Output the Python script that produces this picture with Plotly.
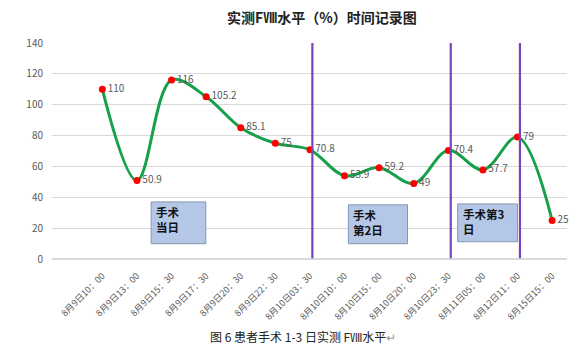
import plotly.graph_objects as go

# ---- data ----
categories = ["8月9日10：00", "8月9日13：00", "8月9日15：30", "8月9日17：30",
              "8月9日20：30", "8月9日22：30", "8月10日03：30", "8月10日10：00",
              "8月10日15：00", "8月10日20：00", "8月10日23：30", "8月11日05：00",
              "8月12日11：00", "8月15日15：00"]
fviii_values = [110, 50.9, 116, 105.2, 85.1, 75, 70.8, 53.9, 59.2, 49, 70.4, 57.7, 79, 25]
value_labels = ["110", "50.9", "116", "105.2", "85.1", "75", "70.8", "53.9",
                "59.2", "49", "70.4", "57.7", "79", "25"]
divider_categories = ["8月10日03：30", "8月10日23：30", "8月12日11：00"]
box_texts = ["手术<br>当日", "手术<br>第2日", "手术第3<br>日"]
y_ticks = [0, 20, 40, 60, 80, 100, 120, 140]

title_text = "实测FⅧ水平（%）时间记录图"
caption_text = "图 6 患者手术 1-3 日实测 FⅧ水平<span style='color:#999'>↵</span>"

FONT = "Noto Sans CJK SC, Arial, sans-serif"
xs = list(range(len(categories)))

W, H = 579, 361
ML, MR, MT, MB = 52, 12, 43, 102
PW, PH = W - ML - MR, H - MT - MB


def px_to_paper(px, py):
    return (px - ML) / PW, (H - MB - py) / PH


fig = go.Figure()
fig.add_trace(go.Scatter(
    x=xs, y=fviii_values,
    mode="lines+markers+text",
    line=dict(color="#16A04A", width=3, shape="spline", smoothing=1.0),
    marker=dict(color="#FF0000", size=7),
    text=value_labels, textposition="middle right",
    textfont=dict(size=10, color="#595959", family=FONT),
    hoverinfo="skip", showlegend=False, cliponaxis=False,
))

shapes = []
for c in divider_categories:
    xi = categories.index(c) + 0.07
    shapes.append(dict(type="line", xref="x", yref="y", x0=xi, x1=xi, y0=0.5, y1=140,
                       line=dict(color="#7844B8", width=2.2), layer="above"))

box_geom = [(1.41, 2.99, 9.9, 37.0), (7.11, 8.82, 9.9, 35.1), (10.27, 12.0, 11.2, 35.7)]
annotations = []
for (x0, x1, y0, y1), t in zip(box_geom, box_texts):
    shapes.append(dict(type="rect", xref="x", yref="y", x0=x0, x1=x1, y0=y0, y1=y1,
                       fillcolor="#B4C7E7", line=dict(color="#8497B0", width=1), layer="above"))
    annotations.append(dict(x=x0, y=y1, xref="x", yref="y", text="<b>" + t + "</b>",
                            showarrow=False, xanchor="left", yanchor="top", align="left",
                            xshift=3, yshift=0,
                            font=dict(size=11.5, color="#111111", family=FONT)))

tx, ty = px_to_paper(322, 17)
annotations.append(dict(x=tx, y=ty, xref="paper", yref="paper",
                        text="<b>" + title_text + "</b>", showarrow=False,
                        xanchor="center", yanchor="middle",
                        font=dict(size=14, color="#222222", family=FONT)))
cx, cy = px_to_paper(303, 336)
annotations.append(dict(x=cx, y=cy, xref="paper", yref="paper",
                        text=caption_text, showarrow=False,
                        xanchor="center", yanchor="middle",
                        font=dict(size=12, color="#222222", family=FONT)))

fig.update_layout(
    width=W, height=H,
    margin=dict(l=ML, r=MR, t=MT, b=MB),
    paper_bgcolor="white", plot_bgcolor="white",
    shapes=shapes, annotations=annotations,
    xaxis=dict(range=[-1.456, 13.43], tickvals=xs, ticktext=categories,
               tickangle=-45, showgrid=False, zeroline=False, showline=False,
               automargin=False, ticklabelstandoff=9,
               tickfont=dict(size=9, color="#595959", family=FONT), fixedrange=True),
    yaxis=dict(range=[0, 140], tickvals=y_ticks, showgrid=True, gridcolor="#D9D9D9",
               gridwidth=1, zeroline=True, zerolinecolor="#D9D9D9", showline=False,
               automargin=False,
               tickfont=dict(size=10, color="#595959", family=FONT),
               ticklabelstandoff=8, fixedrange=True),
)

fig.write_html("out.html", config={"displayModeBar": False},
               post_script="document.body.style.margin='0';document.body.style.overflow='hidden';")
